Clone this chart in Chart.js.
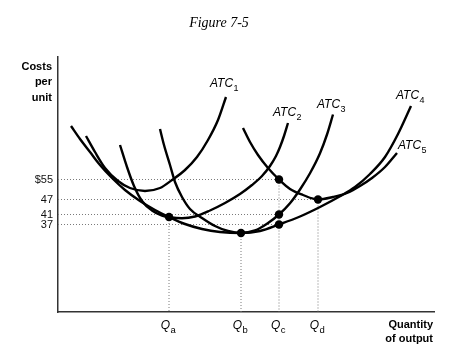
<!DOCTYPE html>
<html>
<head>
<meta charset="utf-8">
<title>Figure 7-5</title>
<script src="https://cdn.jsdelivr.net/npm/chart.js@4.4.1/dist/chart.umd.min.js"></script>
<style>
  html, body { margin: 0; padding: 0; background: #fff; }
  #wrap { width: 452px; height: 349px; position: relative; }
</style>
</head>
<body>
<div id="wrap"><canvas id="costChart"></canvas></div>
<script>
// quantity of output (arbitrary units) and cost per unit ($)
const atc1Q = [7, 9.25, 11.75, 15, 18, 21.75, 25.5, 28.5, 31.75, 34.75, 37.5, 40, 42];
const atc1C = [72.4, 66, 59.6, 54.4, 51.6, 50.4, 51.6, 54.8, 58.8, 64, 70.8, 78.8, 88];

const atc2Q = [15.5, 17.25, 19, 21, 23.5, 26, 28, 31, 34.25, 38, 41.75, 45.5, 48.5, 51, 53, 54.5, 55.5, 56.5, 57.5];
const atc2C = [68.8, 60, 52.4, 46.4, 42.6, 40.6, 39.9, 39.5, 40.2, 42.6, 45.6, 49.2, 52.8, 56.4, 60.4, 64.4, 68, 72.4, 77.6];

const atc3Q = [25.5, 26.5, 28, 29.25, 31, 33, 36, 39.25, 42.5, 45.75, 49.25, 52.25, 55.25, 58, 60.5, 63, 65.5, 67.25, 68.75];
const atc3C = [75.2, 68.8, 60.8, 54, 48, 43.2, 39.6, 36.4, 34.4, 33.6, 34.6, 37.3, 41, 45.5, 51, 57.5, 65.5, 73, 81];

const atc4Q = [3.25, 5.5, 8, 10.5, 13.5, 16.75, 20.5, 24.25, 27.75, 31.75, 36, 40.5, 45.75, 50.5, 55.25, 60.5, 65.5, 70.5, 74.25, 78, 81.75, 85, 88.25];
const atc4C = [76.4, 71.2, 66, 60.8, 55.6, 50.8, 46.4, 42.8, 40, 37.2, 35.2, 34, 33.6, 34.4, 37, 40.2, 44, 48.3, 52, 57.2, 64, 73.2, 84.4];

const atc5Q = [46.25, 48, 50, 52.5, 55.25, 58, 61.25, 65, 68.75, 72.25, 75.5, 78.5, 81.75, 84.75];
const atc5C = [75.6, 70, 64.8, 59.6, 55, 51.2, 48.8, 47, 48, 49.6, 52.4, 55.6, 60, 65.6];

const curveNames = ['1', '2', '3', '4', '5'];

// marked points
const dotQ = [27.75, 45.75, 55.25, 55.25, 55.25, 65];
const dotC = [40, 33.6, 55, 41, 37, 47];

// axis labels
const qNames = ['a', 'b', 'c', 'd'];
const qValues = [27.75, 45.75, 55.25, 65];
const costTicks = [37, 41, 47, 55];

const Q_MIN = 0, Q_MAX = 94, C_MIN = 2, C_MAX = 104;

function zip(xs, ys) {
  return xs.map((x, i) => ({ x: x, y: ys[i] }));
}

const curves = [[atc1Q, atc1C], [atc2Q, atc2C], [atc3Q, atc3C], [atc4Q, atc4C], [atc5Q, atc5C]];

const datasets = [];

datasets.push({
  data: zip(dotQ, dotC),
  pointRadius: 4.2,
  pointBackgroundColor: '#000',
  pointBorderWidth: 0,
  showLine: false,
  order: 0
});

curves.forEach(function (c) {
  datasets.push({
    data: zip(c[0], c[1]),
    showLine: true,
    borderColor: '#000',
    borderWidth: 2.4,
    pointRadius: 0,
    cubicInterpolationMode: 'monotone',
    order: 1
  });
});

// dotted guides: horizontal to the dot at each cost tick, vertical down from the top dot at each Q
const guide = {
  showLine: true,
  borderColor: '#7a7a7a',
  borderWidth: 1,
  borderDash: [1, 2],
  pointRadius: 0,
  order: 2
};
costTicks.forEach(function (c) {
  const i = dotC.indexOf(c);
  datasets.push(Object.assign({ data: [{ x: Q_MIN, y: c }, { x: dotQ[i], y: c }] }, guide));
});
qValues.forEach(function (q) {
  let top = -Infinity;
  dotQ.forEach(function (dq, i) { if (dq === q && dotC[i] > top) top = dotC[i]; });
  datasets.push(Object.assign({ data: [{ x: q, y: top }, { x: q, y: C_MIN }] }, guide));
});

// where the curve labels sit (data units, left end of text baseline)
const labelSpots = [[38, 92], [53.75, 80.4], [64.75, 83.6], [84.5, 87.2], [85, 67.2]];

function subText(ctx, main, sub, x, y, center, subFont) {
  ctx.font = 'italic 12px "Liberation Sans", Arial, sans-serif';
  const w1 = ctx.measureText(main).width;
  ctx.font = subFont;
  const w2 = ctx.measureText(sub).width;
  const left = center ? x - (w1 + w2) / 2 : x;
  ctx.textAlign = 'left';
  ctx.font = 'italic 12px "Liberation Sans", Arial, sans-serif';
  ctx.fillText(main, left, y);
  ctx.font = subFont;
  ctx.fillText(sub, left + w1 + 0.5, y + 3.5);
}

const figureText = {
  id: 'figureText',
  afterDraw(chart) {
    const ctx = chart.ctx;
    const x = chart.scales.x, y = chart.scales.y;
    ctx.save();
    ctx.fillStyle = '#000';
    ctx.textBaseline = 'alphabetic';

    ctx.font = 'italic 14px "Liberation Serif", "Times New Roman", serif';
    ctx.textAlign = 'center';
    ctx.fillText('Figure 7-5', 219, 27);

    ctx.font = 'bold 11px "Liberation Sans", Arial, sans-serif';
    ctx.textAlign = 'right';
    ctx.fillText('Costs', 52, 70);
    ctx.fillText('per', 52, 85);
    ctx.fillText('unit', 52, 101);
    ctx.fillText('Quantity', 433, 328);
    ctx.fillText('of output', 433, 342);

    curveNames.forEach(function (n, i) {
      const s = labelSpots[i];
      subText(ctx, 'ATC', n, x.getPixelForValue(s[0]), y.getPixelForValue(s[1]), false,
        '9px "Liberation Sans", Arial, sans-serif');
    });

    qNames.forEach(function (n, i) {
      subText(ctx, 'Q', n, x.getPixelForValue(qValues[i]) - 1, 329, true,
        '9.5px "Liberation Sans", Arial, sans-serif');
    });
    ctx.restore();
  }
};

const ctx = document.getElementById('costChart').getContext('2d');
const costChart = new Chart(ctx, {
  type: 'scatter',
  data: { datasets: datasets },
  options: {
    responsive: true,
    maintainAspectRatio: false,
    animation: false,
    events: [],
    layout: { padding: { left: 0, right: 18, top: 57, bottom: 0 } },
    plugins: { legend: { display: false }, tooltip: { enabled: false } },
    scales: {
      x: {
        type: 'linear',
        min: Q_MIN,
        max: Q_MAX,
        grid: { display: false, drawTicks: false },
        border: { display: true, color: '#333', width: 1.5 },
        ticks: { display: false },
        afterFit: function (s) { s.height = 37; }
      },
      y: {
        type: 'linear',
        min: C_MIN,
        max: C_MAX,
        grid: { display: false, drawTicks: false },
        border: { display: true, color: '#333', width: 1.5 },
        afterBuildTicks: function (s) { s.ticks = costTicks.map(v => ({ value: v })); },
        ticks: {
          padding: 5,
          color: '#111',
          font: { family: '"Liberation Sans", Arial, sans-serif', size: 11 },
          callback: function (v) { return v === 55 ? '$55' : String(v); }
        },
        afterFit: function (s) { s.width = 58; }
      }
    }
  },
  plugins: [figureText]
});
</script>
</body>
</html>
